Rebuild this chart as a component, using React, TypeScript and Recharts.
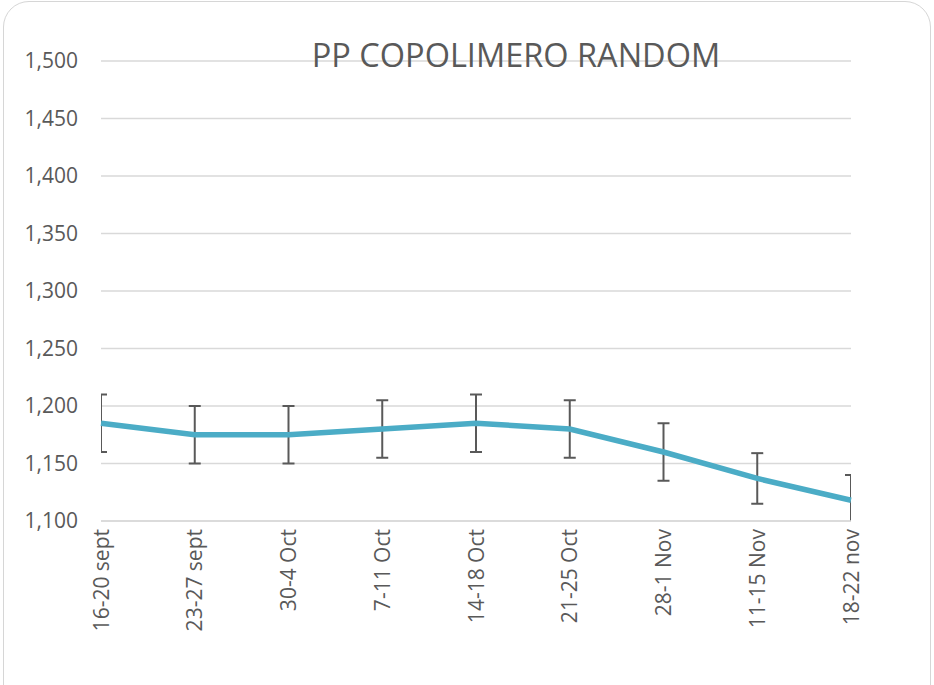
import { CartesianGrid, Customized, ErrorBar, Line, LineChart, XAxis, YAxis } from "recharts";

const weeks = [
  "16-20 sept",
  "23-27 sept",
  "30-4 Oct",
  "7-11 Oct",
  "14-18 Oct",
  "21-25 Oct",
  "28-1 Nov",
  "11-15 Nov",
  "18-22 nov",
];

const prices = [1185, 1175, 1175, 1180, 1185, 1180, 1160, 1137, 1118];

const errors = [25, 25, 25, 25, 25, 25, 25, 22, 22];

const yTicks = [1100, 1150, 1200, 1250, 1300, 1350, 1400, 1450, 1500];

const chartTitle = "PP COPOLIMERO RANDOM";

const data = weeks.map((week, i) => ({
  week,
  price: prices[i],
  err: errors[i],
}));

const textColor = "#595959";
const font = "'Open Sans', sans-serif";

function WeekTick(props: any) {
  const { x, y, payload } = props;
  return (
    <text
      x={x}
      y={y}
      dy="0.36em"
      transform={`rotate(-90 ${x} ${y})`}
      textAnchor="end"
      fill={textColor}
      fontSize={21}
      fontFamily={font}
    >
      {payload.value}
    </text>
  );
}

// title plus a clip for the error bars, like excel cuts them at the plot edge
function Extras(props: any) {
  const { offset } = props;
  const left = offset?.left ?? 101;
  const top = offset?.top ?? 61;
  const w = offset?.width ?? 750;
  const h = offset?.height ?? 460;
  return (
    <g>
      <defs>
        <clipPath id="plotClip">
          <rect x={left} y={top - 20} width={w} height={h + 20} />
        </clipPath>
      </defs>
      <style>{`.recharts-errorBars { clip-path: url(#plotClip); }`}</style>
      <text
        x={516}
        y={67}
        textAnchor="middle"
        fill={textColor}
        fontSize={32.5}
        fontFamily={font}
      >
        {chartTitle}
      </text>
    </g>
  );
}

export default function App() {
  return (
    <div
      style={{
        position: "absolute",
        left: 0,
        top: 0,
        width: 934,
        height: 685,
        overflow: "hidden",
        background: "#fff",
      }}
    >
      <div
        style={{
          position: "absolute",
          left: 3,
          top: 1,
          width: 926,
          height: 740,
          border: "1.5px solid #d6d6d6",
          borderRadius: 26,
        }}
      />
      <div style={{ position: "absolute", left: 0, top: 0 }}>
        <LineChart
          width={934}
          height={685}
          data={data}
          margin={{ top: 61, right: 83, bottom: 0, left: 0 }}
        >
          <CartesianGrid vertical={false} stroke="#d9d9d9" strokeWidth={1.5} />
          <XAxis
            dataKey="week"
            interval={0}
            height={164}
            padding={{ left: 0, right: 0 }}
            axisLine={{ stroke: "#d9d9d9", strokeWidth: 1.5 }}
            tickLine={false}
            tickMargin={2}
            tick={<WeekTick />}
          />
          <YAxis
            width={101}
            domain={[1100, 1500]}
            ticks={yTicks}
            allowDataOverflow
            axisLine={false}
            tickLine={false}
            tickSize={0}
            tickMargin={23}
            tickFormatter={(v) => Number(v).toLocaleString("en-US")}
            tick={{ fill: textColor, fontSize: 21, fontFamily: font }}
          />
          <Line
            type="linear"
            dataKey="price"
            stroke="#4bacc6"
            strokeWidth={5.5}
            dot={false}
            activeDot={false}
            isAnimationActive={false}
          >
            <ErrorBar
              dataKey="err"
              direction="y"
              width={6}
              stroke={textColor}
              strokeWidth={2}
              isAnimationActive={false}
            />
          </Line>
          <Customized component={<Extras />} />
        </LineChart>
      </div>
    </div>
  );
}
